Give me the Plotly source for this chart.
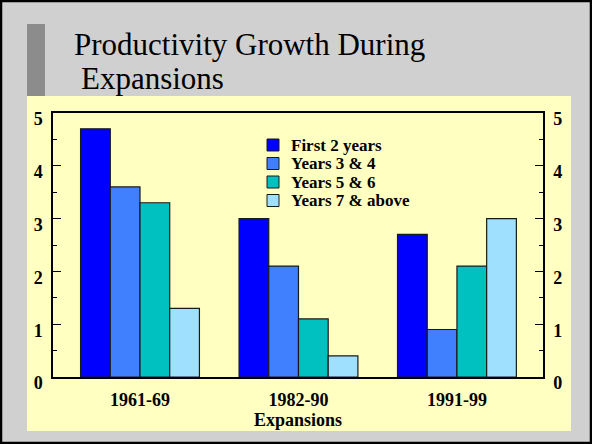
import plotly.graph_objects as go

categories = ["1961-69", "1982-90", "1991-99"]
series_names = ["First 2 years", "Years 3 & 4", "Years 5 & 6", "Years 7 & above"]
first_2_years = [4.7, 3.0, 2.7]
years_3_4 = [3.6, 2.1, 0.9]
years_5_6 = [3.3, 1.1, 2.1]
years_7_above = [1.3, 0.4, 3.0]
y_ticks = [0, 1, 2, 3, 4, 5]

series_values = [first_2_years, years_3_4, years_5_6, years_7_above]
colors = ["#0000FF", "#4080FF", "#00C0C0", "#A0E0FF"]

SERIF = "Liberation Serif"
YELLOW = "#FFFFC2"

fig = go.Figure()
for name, vals, col in zip(series_names, series_values, colors):
    fig.add_trace(go.Bar(
        x=categories, y=vals, name=name, showlegend=False,
        marker=dict(color=col, line=dict(color="#1a1a1a", width=1.2)),
    ))

# invisible trace on right axis so it renders
fig.add_trace(go.Scatter(x=categories, y=[None]*3, yaxis="y2", showlegend=False, hoverinfo="skip"))

L, R, T, B = 53, 49, 113, 67
W, H = 592, 444
pw, ph = W - L - R, H - T - B
def px(x): return (x - L) / pw
def py(y): return 1 - (y - T) / ph

axis_font = dict(family=SERIF, size=18, color="black", weight="bold")

shapes = [
    # decorative bar at left of title
    dict(type="rect", xref="paper", yref="paper", layer="below",
         x0=px(27), x1=px(45), y0=py(24), y1=py(100),
         fillcolor="#8C8C8C", line=dict(width=0)),
    # yellow chart panel
    dict(type="rect", xref="paper", yref="paper", layer="below",
         x0=px(27), x1=px(571), y0=py(431), y1=py(96),
         fillcolor=YELLOW, line=dict(width=0)),
    # outer frame
    dict(type="rect", xref="paper", yref="paper", layer="above",
         x0=px(1), x1=px(591), y0=py(443), y1=py(1),
         fillcolor="rgba(0,0,0,0)", line=dict(color="black", width=2.5)),
]
annotations = [
    dict(text="Productivity Growth During", xref="paper", yref="paper",
         x=px(72), y=py(44), xanchor="left", yanchor="middle", showarrow=False,
         font=dict(family=SERIF, size=31, color="black")),
    dict(text="Expansions", xref="paper", yref="paper",
         x=px(79), y=py(78), xanchor="left", yanchor="middle", showarrow=False,
         font=dict(family=SERIF, size=31, color="black")),
]

# manual legend (tight row spacing as in the reference)
leg_x, leg_y0, leg_dy, sq = 267, 145, 18.5, 12
for i, (name, col) in enumerate(zip(series_names, colors)):
    cy = leg_y0 + i * leg_dy
    shapes.append(dict(type="rect", xref="paper", yref="paper", layer="above",
                       x0=px(leg_x), x1=px(leg_x + sq), y0=py(cy + sq / 2), y1=py(cy - sq / 2),
                       fillcolor=col, line=dict(color="#1a1a1a", width=1)))
    annotations.append(dict(text=name, xref="paper", yref="paper",
                            x=px(289), y=py(cy), xanchor="left", yanchor="middle",
                            showarrow=False,
                            font=dict(family=SERIF, size=17, color="black", weight="bold")))

fig.update_layout(
    width=W, height=H,
    margin=dict(l=L, r=R, t=T, b=B),
    paper_bgcolor="#D0D0D0",
    plot_bgcolor=YELLOW,
    barmode="group",
    bargap=0.25,
    bargroupgap=0,
    font=dict(family=SERIF, color="black"),
    showlegend=False,
    xaxis=dict(
        range=[-0.549, 2.543],
        showline=True, linecolor="black", linewidth=1.5, mirror=True,
        ticks="", tickfont=axis_font, showgrid=False, ticklabelstandoff=6,
        title=dict(text="Expansions", font=dict(family=SERIF, size=18, color="black", weight="bold"), standoff=0),
    ),
    yaxis=dict(
        range=[0, 5], tickvals=y_ticks, showline=True, linecolor="black", linewidth=1.5,
        ticks="inside", ticklen=8, tickcolor="black", tickfont=axis_font, showgrid=False,
        minor=dict(ticks="inside", ticklen=4, dtick=0.5, tickcolor="black"),
        zeroline=False, ticklabelstandoff=5, ticklabelshift=6,
    ),
    yaxis2=dict(
        range=[0, 5], tickvals=y_ticks, overlaying="y", side="right",
        showline=True, linecolor="black", linewidth=1.5,
        ticks="inside", ticklen=8, tickcolor="black", tickfont=axis_font, showgrid=False,
        minor=dict(ticks="inside", ticklen=4, dtick=0.5, tickcolor="black"),
        zeroline=False, ticklabelstandoff=5, ticklabelshift=6,
    ),
    shapes=shapes,
    annotations=annotations,
)

fig.write_html(
    "out.html",
    config={"displayModeBar": False},
    post_script="document.body.style.margin='0';document.body.style.overflow='hidden';",
)
